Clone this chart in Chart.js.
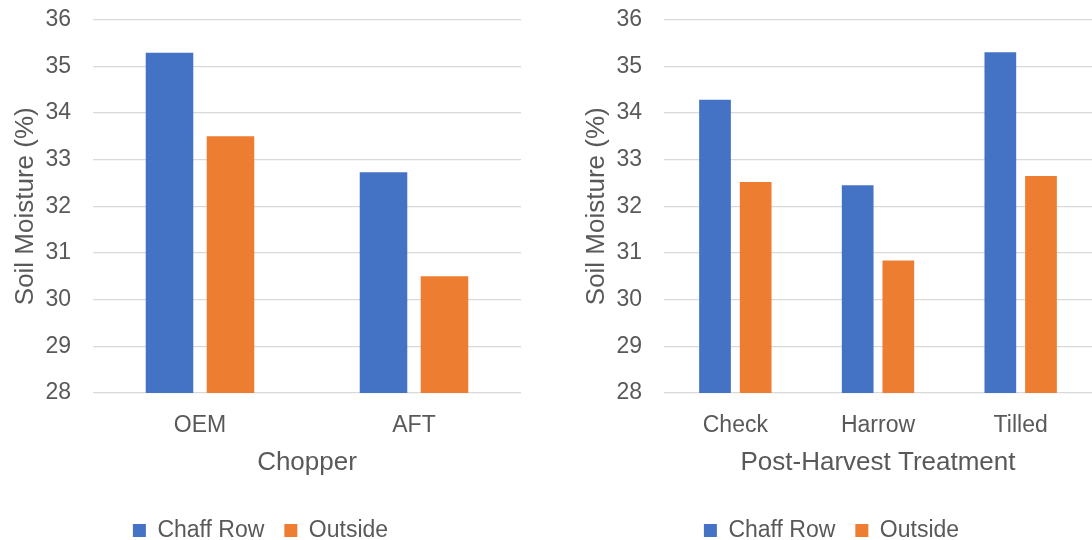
<!DOCTYPE html>
<html>
<head>
<meta charset="utf-8">
<script src="https://cdn.jsdelivr.net/npm/chart.js@4"></script>
<style>
  html, body { margin: 0; padding: 0; background: #fff; overflow: hidden; }
  #wrap { display: flex; width: 1092px; height: 540px; }
  .box { position: relative; width: 546px; height: 540px; }
</style>
</head>
<body>
<div id="wrap">
  <div class="box"><canvas id="chopperChart"></canvas></div>
  <div class="box"><canvas id="treatChart"></canvas></div>
</div>
<script>
// data
const seriesNames = ["Chaff Row", "Outside"];
const yTicks = [28, 29, 30, 31, 32, 33, 34, 35, 36];

const chopperCats = ["OEM", "AFT"];
const chopperChaff = [35.29, 32.73];
const chopperOutside = [33.5, 30.5];

const treatCats = ["Check", "Harrow", "Tilled"];
const treatChaff = [34.28, 32.45, 35.3];
const treatOutside = [32.52, 30.84, 32.65];

const BLUE = "#4472C4";
const ORANGE = "#ED7D31";
const TEXT = "#595959";
const FONT = "'Liberation Sans', Arial, sans-serif";

Chart.defaults.font.family = FONT;
Chart.defaults.color = TEXT;

function makeChart(id, cats, chaff, outside, xTitle, padLeft, padRight) {
  return new Chart(document.getElementById(id), {
    type: "bar",
    data: {
      labels: cats,
      datasets: [
        { label: seriesNames[0], data: chaff, backgroundColor: BLUE },
        { label: seriesNames[1], data: outside, backgroundColor: ORANGE },
      ],
    },
    options: {
      responsive: true,
      maintainAspectRatio: false,
      animation: false,
      devicePixelRatio: 1,
      barPercentage: 0.78,
      categoryPercentage: 0.57,
      layout: {
        padding: { top: 19.5, left: padLeft, right: padRight, bottom: -12 },
      },
      plugins: {
        tooltip: { enabled: false },
        legend: {
          position: "bottom",
          labels: {
            boxWidth: 13,
            boxHeight: 13,
            padding: 20,
            color: TEXT,
            font: { size: 23 },
          },
        },
      },
      scales: {
        x: {
          grid: { display: false },
          border: { display: false },
          ticks: { padding: 11, color: TEXT, font: { size: 23 } },
          title: {
            display: true,
            text: xTitle,
            color: TEXT,
            font: { size: 26 },
            padding: { top: 0, bottom: 21 },
          },
          afterFit: (s) => { s.height = 106; },
        },
        y: {
          min: yTicks[0],
          max: yTicks[yTicks.length - 1],
          ticks: { stepSize: 1, padding: 22, color: TEXT, font: { size: 23 } },
          grid: { color: "#D9D9D9", lineWidth: 1.3, drawTicks: false },
          border: { display: false },
          title: {
            display: true,
            text: "Soil Moisture (%)",
            color: TEXT,
            font: { size: 26 },
            padding: { top: 10, bottom: 0 },
          },
          afterFit: (s) => {
            s.width = 93;
            s.paddingTop = 0;
            s.paddingBottom = 0;
          },
        },
      },
    },
  });
}

makeChart("chopperChart", chopperCats, chopperChaff, chopperOutside, "Chopper", 0, 25);
makeChart("treatChart", treatCats, treatChaff, treatOutside, "Post-Harvest Treatment", 25, 0);
</script>
</body>
</html>
